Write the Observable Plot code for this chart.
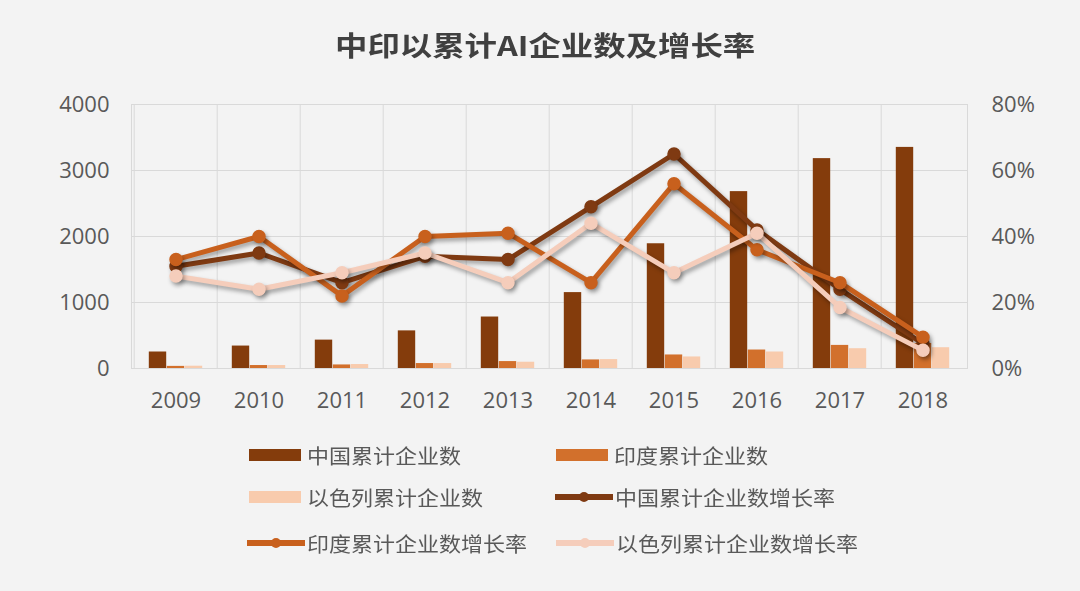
<!DOCTYPE html>
<html><head><meta charset="utf-8">
<script src="https://cdn.jsdelivr.net/npm/d3@7"></script>
<script src="https://cdn.jsdelivr.net/npm/@observablehq/plot@0.6"></script>
<style>
body{margin:0;background:#f3f3f3;font-family:"Open Sans","Noto Sans CJK SC",sans-serif;}
#wrap{position:relative;width:1080px;height:591px;overflow:hidden;background:#f3f3f3;}
#title{position:absolute;left:5px;top:27px;width:1080px;text-align:center;font-size:27px;font-weight:bold;color:#404040;line-height:36px;font-family:"Noto Sans CJK SC",sans-serif;}
#title span{display:inline-block;transform:scaleX(1.2);}
#chart{position:absolute;left:0;top:80px;}
.lg{position:absolute;height:30px;display:flex;align-items:center;font-size:20px;color:#595959;font-family:"Noto Sans CJK SC",sans-serif;white-space:nowrap;}
.lg span{display:inline-block;transform:scaleX(1.1);transform-origin:left center;}
g[aria-label="line"], g[aria-label="dot"]{filter:drop-shadow(2px 3px 2px rgba(0,0,0,0.35));}
</style></head>
<body>
<div id="wrap">
  <div id="title"><span>中印以累计AI企业数及增长率</span></div>
  <div id="chart"></div>
  <div id="legend"></div>
</div>
<script>
// ---- data ----
const years = ["2009","2010","2011","2012","2013","2014","2015","2016","2017","2018"];
const chinaCount  = [250, 340, 430, 570, 780, 1150, 1890, 2680, 3180, 3350];
const indiaCount  = [32, 45, 54, 75, 105, 130, 205, 280, 350, 380];
const israelCount = [35, 45, 60, 75, 95, 135, 175, 250, 300, 315];
const chinaRate  = [31, 35, 26, 34, 33, 49, 65, 42, 24, 7.5];   // %
const indiaRate  = [33, 40, 22, 40, 41, 26, 56, 36, 26, 9.5];   // %
const israelRate = [28, 24, 29, 35, 26, 44, 29, 41, 18.5, 5.5]; // %
const countNames = ["中国累计企业数","印度累计企业数","以色列累计企业数"];
const rateNames  = ["中国累计企业数增长率","印度累计企业数增长率","以色列累计企业数增长率"];
const countTicks = [0, 1000, 2000, 3000, 4000];
const rateTicks  = [0, 20, 40, 60, 80];

// ---- styles ----
const barColors  = ["#843c0c", "#d2702c", "#f8cbad"];
const lineColors = ["#7f3a12", "#c8601d", "#f5cdbb"];
const rateToCount = 4000 / 80;

const counts = [chinaCount, indiaCount, israelCount];
const rates = [chinaRate, indiaRate, israelRate];

const W = 1080, ML = 131, MR = 113;
const bw = (W - ML - MR) / years.length;
const barW = 18;
const inset = (bw - barW) / 2;

const barMarks = counts.map((arr, i) =>
  Plot.barY(years.map((y, j) => ({year: y, value: arr[j]})), {
    x: "year", y: "value", fill: barColors[i],
    insetLeft: inset, insetRight: inset, dx: (i - 1) * barW
  })
);
const lineMarks = rates.flatMap((arr, i) => {
  const rows = years.map((y, j) => ({year: y, rate: arr[j]}));
  return [
    Plot.line(rows, {x: "year", y: d => d.rate * rateToCount, stroke: lineColors[i], strokeWidth: 5, strokeLinejoin: "round"}),
    Plot.dot(rows, {x: "year", y: d => d.rate * rateToCount, r: 6, fill: lineColors[i], stroke: lineColors[i]})
  ];
});

const chart = Plot.plot({
  width: W, height: 350,
  marginLeft: ML, marginRight: MR, marginTop: 24, marginBottom: 62,
  style: {background: "transparent", fontSize: "22px", fontFamily: "'Open Sans', sans-serif", color: "#595959", overflow: "visible"},
  x: {type: "band", domain: years, padding: 0, tickSize: 0, tickPadding: 24, label: null},
  y: {domain: [0, 4000], ticks: 4, tickSize: 0, tickPadding: 22, label: null, tickFormat: d3.format("d")},
  marks: [
    Plot.ruleY(countTicks, {y: d => d, stroke: "#d9d9d9"}),
    Plot.ruleX(years, {x: d => d, dx: -bw / 2, stroke: "#d9d9d9"}),
    Plot.frame({stroke: "#d9d9d9"}),
    ...barMarks,
    ...lineMarks,
    Plot.text(rateTicks, {y: d => d * rateToCount, text: d => d + "%", frameAnchor: "right", textAnchor: "start", dx: 24, fontSize: 22, fill: "#595959"})
  ]
});
document.getElementById("chart").appendChild(chart);

// ---- legend ----
const legendItems = [
  {label: countNames[0], kind: "bar",  color: barColors[0],  x: 249, y: 455},
  {label: countNames[1], kind: "bar",  color: barColors[1],  x: 556, y: 455},
  {label: countNames[2], kind: "bar",  color: barColors[2],  x: 249, y: 497},
  {label: rateNames[0],  kind: "line", color: lineColors[0], x: 555, y: 497},
  {label: rateNames[1],  kind: "line", color: lineColors[1], x: 247, y: 543},
  {label: rateNames[2],  kind: "line", color: lineColors[2], x: 556, y: 543}
];
const lg = document.getElementById("legend");
legendItems.forEach(it => {
  const d = document.createElement("div");
  d.className = "lg";
  d.style.left = it.x + "px";
  d.style.top = (it.y - 15) + "px";
  const sw = it.kind === "bar"
    ? `<svg width="54" height="14" style="margin-right:4px"><rect x="0" y="1" width="52" height="12" fill="${it.color}"/></svg>`
    : `<svg width="58" height="14" style="margin-right:2px"><line x1="1" y1="7" x2="57" y2="7" stroke="${it.color}" stroke-width="6" stroke-linecap="round"/><circle cx="29" cy="7" r="5" fill="${it.color}"/></svg>`;
  d.innerHTML = sw + `<span>${it.label}</span>`;
  lg.appendChild(d);
});
</script>
</body></html>
